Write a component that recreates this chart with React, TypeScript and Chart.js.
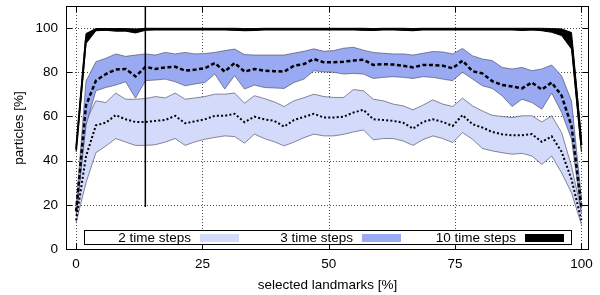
import React, { useEffect, useRef } from "react";
import { Chart, registerables } from "chart.js";

Chart.register(...registerables);

// selected landmarks [%]
const xPct = [
  0, 1.96, 3.92, 5.88, 7.84, 9.8, 11.76, 13.73, 15.69, 17.65, 19.61, 21.57, 23.53,
  25.49, 27.45, 29.41, 31.37, 33.33, 35.29, 37.25, 39.22, 41.18, 43.14, 45.1, 47.06,
  49.02, 50.98, 52.94, 54.9, 56.86, 58.82, 60.78, 62.75, 64.71, 66.67, 68.63, 70.59,
  72.55, 74.51, 76.47, 78.43, 80.39, 82.35, 84.31, 86.27, 88.24, 90.2, 92.16, 94.12,
  96.08, 98.04, 100,
];

// 2 time steps
const upper2 = [
  15, 58, 67.1, 66.3, 70.6, 67.8, 67.8, 68.1, 69.0, 68.4, 70.6, 67.8, 68.4, 69.0, 70.1,
  70.1, 70.6, 66.0, 69.4, 68.1, 66.6, 64.5, 67.1, 68.5, 70.1, 69.0, 68.6, 68.6, 72.2,
  71.6, 67.8, 67.1, 65.6, 64.8, 63.0, 65.1, 67.5, 65.6, 64.5, 68.3, 64.8, 62.5, 60.5,
  60.0, 59.5, 60.3, 60.3, 57.5, 60.3, 52.7, 37.5, 17,
];
const median2 = [
  13, 42, 56, 57.2, 60.6, 58.7, 57.5, 57.5, 58, 58.4, 60.3, 56.9, 57.8, 58.7, 60.3, 60.3,
  61.2, 57.4, 59.9, 58.7, 58.0, 55.4, 58.4, 59.8, 61.2, 59.5, 59.5, 59.9, 61.8, 63.0, 58.7,
  58.4, 58.0, 57.2, 54.5, 57.5, 58.7, 57.5, 55.7, 60.6, 56.5, 55.0, 53.0, 51.9, 51.5, 51.5,
  52.0, 48.5, 51.0, 44.0, 31.5, 13,
];
const lower2 = [
  12, 30, 43.6, 46.6, 50, 48.4, 46.9, 46.9, 47.2, 48.4, 50, 46.9, 48.5, 49.7, 50.5, 51.2,
  50.9, 47.9, 52, 50, 48.5, 46.7, 48.4, 50.4, 52, 51.2, 51.2, 51.9, 53, 53.9, 49.4, 50, 50,
  48.9, 46.9, 49.5, 51.2, 50, 48.2, 52.7, 49.7, 45.5, 44.4, 43.6, 42.9, 43.3, 42.1, 38.3,
  42.1, 34.5, 25.4, 11,
];

// 3 time steps
const upper3 = [
  19, 76, 84.8, 86.3, 88.3, 87.2, 87.8, 88.3, 87.8, 89, 88.3, 89, 88.3, 88.5, 89, 89.8,
  90.5, 88, 87.8, 87.8, 87.8, 87.8, 88.7, 89.5, 90.6, 89.5, 89.8, 90.9, 91.3, 90, 89, 88.6,
  88.3, 88.3, 87.8, 88.6, 89.4, 89.2, 88.3, 90.8, 87.5, 86, 85.3, 82.2, 81.5, 82.2, 80.7,
  81.5, 83.3, 78.4, 67, 23,
];
const median3 = [
  17, 65, 76.2, 79.2, 81.2, 81.5, 78.1, 82.5, 81.5, 82.2, 82.5, 80.7, 81.2, 81.8, 84.2,
  80.3, 84.2, 80.3, 81.5, 80.7, 80.5, 80.3, 83, 83.7, 86, 84.5, 84.5, 84.8, 85.3, 85.7, 83.3,
  83.7, 83.5, 83, 82.2, 83.3, 83.3, 83, 81.8, 85.3, 80.5, 79.5, 76, 74.2, 73.6, 72.7, 75.4,
  72.1, 75.4, 69.4, 55.7, 19,
];
const lower3 = [
  15, 56, 71.6, 73.1, 74.2, 75.7, 68.3, 76.2, 76.5, 76.9, 75.7, 73.9, 74.7, 75.4, 79.2,
  72.4, 78.5, 72.4, 74.2, 73.1, 72.9, 72.7, 75.4, 76.9, 80.7, 80.2, 80, 79.2, 79.5, 79.2,
  77.2, 77.7, 78, 77.7, 77.2, 78, 77.7, 76.9, 76.2, 80, 77, 73.9, 72.7, 69.4, 64.5, 67.8,
  66.3, 63.3, 70.6, 61.8, 49.7, 16,
];

// 10 time steps
const upper10 = [
  46, 97.5, 99.8, 99.8, 99.8, 99.8, 99.6, 99.9, 99.9, 99.9, 99.9, 99.9, 99.9, 99.9, 99.9,
  99.9, 99.9, 99.8, 99.8, 99.9, 99.9, 99.9, 99.9, 99.9, 99.9, 99.9, 99.9, 99.9, 99.9, 99.9,
  99.8, 99.9, 99.9, 99.9, 99.8, 99.9, 99.9, 99.9, 99.9, 99.9, 99.9, 99.9, 99.9, 99.9, 99.9,
  99.9, 99.9, 99.9, 99.8, 99.6, 98, 50,
];
const median10 = [
  45, 95.5, 99.3, 99.4, 99.2, 99.2, 98.7, 99.5, 99.5, 99.5, 99.5, 99.5, 99.5, 99.5, 99.5,
  99.5, 99.4, 99.3, 99.4, 99.5, 99.5, 99.5, 99.5, 99.5, 99.5, 99.5, 99.5, 99.5, 99.5, 99.4,
  99.4, 99.5, 99.5, 99.4, 99.3, 99.5, 99.5, 99.5, 99.5, 99.5, 99.5, 99.5, 99.5, 99.5, 99.5,
  99.4, 99.5, 99.3, 99.0, 98.1, 94.3, 47,
];
const lower10 = [
  44, 93, 98.8, 99.0, 98.6, 98.6, 97.8, 99.0, 99.2, 99.2, 99.2, 99.2, 99.2, 99.2, 99.2,
  99.2, 99.0, 98.8, 98.9, 99.2, 99.2, 99.2, 99.2, 99.2, 99.2, 99.2, 99.2, 99.2, 99.2, 99.0,
  98.9, 99.2, 99.2, 99.0, 98.8, 99.2, 99.2, 99.2, 99.2, 99.2, 99.2, 99.2, 99.2, 99.2, 99.2,
  98.9, 99.2, 98.8, 98.1, 96.6, 90.5, 44,
];

// vertical marker
const markerX = [13.7, 13.7];
const markerY = [19, 110];

const xTicks = [0, 25, 50, 75, 100];
const yTicks = [0, 20, 40, 60, 80, 100];
const legendLabels = ["2 time steps", "3 time steps", "10 time steps"];
const xTitle = "selected landmarks [%]";
const yTitle = "particles [%]";

const FONT = '"Liberation Sans", Arial, Helvetica, sans-serif';
const FONT_SIZE = 13.5;
const LIGHT = "rgb(211,218,250)";
const DARK = "rgb(153,170,242)";
const EDGE = "rgba(70,70,95,0.9)";

const pts = (ys: number[]) => xPct.map((x, i) => ({ x, y: ys[i] }));

const framePlugin = {
  id: "frame",
  beforeDatasetsDraw(chart: any) {
    const { ctx, chartArea: a, scales } = chart;
    ctx.save();
    ctx.strokeStyle = "rgba(0,0,0,0.7)";
    ctx.lineWidth = 1;
    ctx.setLineDash([1, 2]);
    xTicks.forEach((v) => {
      const p = Math.round(scales.x.getPixelForValue(v)) + 0.5;
      ctx.beginPath();
      ctx.moveTo(p, a.top);
      ctx.lineTo(p, a.bottom);
      ctx.stroke();
    });
    yTicks.forEach((v) => {
      const p = Math.round(scales.y.getPixelForValue(v)) + 0.5;
      ctx.beginPath();
      ctx.moveTo(a.left, p);
      ctx.lineTo(a.right, p);
      ctx.stroke();
    });
    ctx.restore();
  },
  afterDatasetsDraw(chart: any) {
    const { ctx, chartArea: a, scales } = chart;
    ctx.save();
    ctx.setLineDash([]);
    ctx.strokeStyle = "#000";
    ctx.lineWidth = 1;
    // ticks (inward, mirrored)
    const tl = 6;
    ctx.beginPath();
    xTicks.forEach((v) => {
      const p = Math.round(scales.x.getPixelForValue(v)) + 0.5;
      ctx.moveTo(p, a.bottom);
      ctx.lineTo(p, a.bottom - tl);
      ctx.moveTo(p, a.top);
      ctx.lineTo(p, a.top + tl);
    });
    yTicks.forEach((v) => {
      const p = Math.round(scales.y.getPixelForValue(v)) + 0.5;
      ctx.moveTo(a.left, p);
      ctx.lineTo(a.left + tl, p);
      ctx.moveTo(a.right, p);
      ctx.lineTo(a.right - tl, p);
    });
    ctx.stroke();

    // legend
    const bx = 84.5, by = 230.5, bw = 487, bh = 14;
    ctx.fillStyle = "#fff";
    ctx.fillRect(bx, by, bw, bh);
    ctx.strokeRect(bx, by, bw, bh);
    ctx.font = `${FONT_SIZE}px ${FONT}`;
    ctx.textAlign = "right";
    ctx.textBaseline = "alphabetic";
    const textRight = [191, 353, 516];
    const swLeft = [200, 362, 525];
    const swColor = [LIGHT, DARK, "#000"];
    legendLabels.forEach((t, i) => {
      ctx.fillStyle = "#000";
      ctx.fillText(t, textRight[i], 241.5);
      ctx.fillStyle = swColor[i];
      ctx.fillRect(swLeft[i], 234, 39, 8);
    });

    // border
    ctx.strokeStyle = "#000";
    ctx.lineWidth = 1;
    ctx.strokeRect(a.left + 0.5, a.top + 0.5, a.right - a.left - 1, a.bottom - a.top);

    // axis titles
    ctx.fillStyle = "#000";
    ctx.textAlign = "center";
    ctx.textBaseline = "middle";
    ctx.fillText(xTitle, 327.5, 285);
    ctx.translate(19, 128);
    ctx.rotate(-Math.PI / 2);
    ctx.fillText(yTitle, 0, 0);
    ctx.restore();
  },
};

export default function App() {
  const ref = useRef<HTMLCanvasElement | null>(null);

  useEffect(() => {
    if (!ref.current) return;
    const edge = (data: number[], order: number, fill: any, bg: string, color: string, w: number) => ({
      data: pts(data),
      borderColor: color,
      borderWidth: w,
      backgroundColor: bg,
      fill,
      pointRadius: 0,
      tension: 0,
      order,
    });
    const chart = new Chart(ref.current, {
      type: "line",
      data: {
        datasets: [
          {
            data: markerX.map((x, i) => ({ x, y: markerY[i] })),
            borderColor: "#000",
            borderWidth: 1.5,
            pointRadius: 0,
            fill: false,
            order: 0,
          },
          { ...edge(median10, 1, false, "#000", "#000", 2), borderCapStyle: "butt" },
          { ...edge(median3, 2, false, "#000", "#000", 2.5), borderDash: [4, 2.5] },
          { ...edge(median2, 3, false, "#000", "#000", 2), borderDash: [2, 2.2] },
          edge(lower10, 4, false, "#000", "#000", 1),
          edge(upper10, 5, 4, "#000", "#000", 1),
          edge(lower3, 6, false, DARK, EDGE, 0.7),
          edge(upper3, 7, 6, DARK, EDGE, 0.7),
          edge(lower2, 8, false, LIGHT, EDGE, 0.7),
          edge(upper2, 9, 8, LIGHT, EDGE, 0.7),
        ] as any,
      },
      options: {
        animation: false,
        responsive: false,
        events: [],
        layout: { padding: { left: 0, right: 11, top: 6, bottom: 0 } },
        plugins: {
          legend: { display: false },
          tooltip: { enabled: false },
          filler: { drawTime: "beforeDatasetDraw" },
        } as any,
        scales: {
          x: {
            type: "linear",
            min: -2,
            max: 101.5,
            grid: { display: false, drawTicks: false },
            border: { display: false },
            afterBuildTicks: (s: any) => {
              s.ticks = xTicks.map((v) => ({ value: v }));
            },
            afterFit: (s: any) => {
              s.height = 46;
              s.paddingLeft = 0;
              s.paddingRight = 0;
              s.paddingTop = 0;
              s.paddingBottom = 0;
            },
            ticks: {
              padding: 7,
              maxRotation: 0,
              autoSkip: false,
              color: "#000",
              font: { family: FONT, size: FONT_SIZE },
            },
          },
          y: {
            type: "linear",
            min: 0,
            max: 110,
            grid: { display: false, drawTicks: false },
            border: { display: false },
            afterBuildTicks: (s: any) => {
              s.ticks = yTicks.map((v) => ({ value: v }));
            },
            afterFit: (s: any) => {
              s.width = 66;
              s.paddingTop = 0;
              s.paddingBottom = 0;
              s.paddingLeft = 0;
              s.paddingRight = 0;
            },
            ticks: {
              padding: 8,
              autoSkip: false,
              color: "#000",
              font: { family: FONT, size: FONT_SIZE },
            },
          },
        },
      },
      plugins: [framePlugin],
    });
    return () => chart.destroy();
  }, []);

  return (
    <div style={{ position: "absolute", left: 0, top: 0, width: 600, height: 295, background: "#fff" }}>
      <canvas ref={ref} width={600} height={295} style={{ display: "block" }} />
    </div>
  );
}
